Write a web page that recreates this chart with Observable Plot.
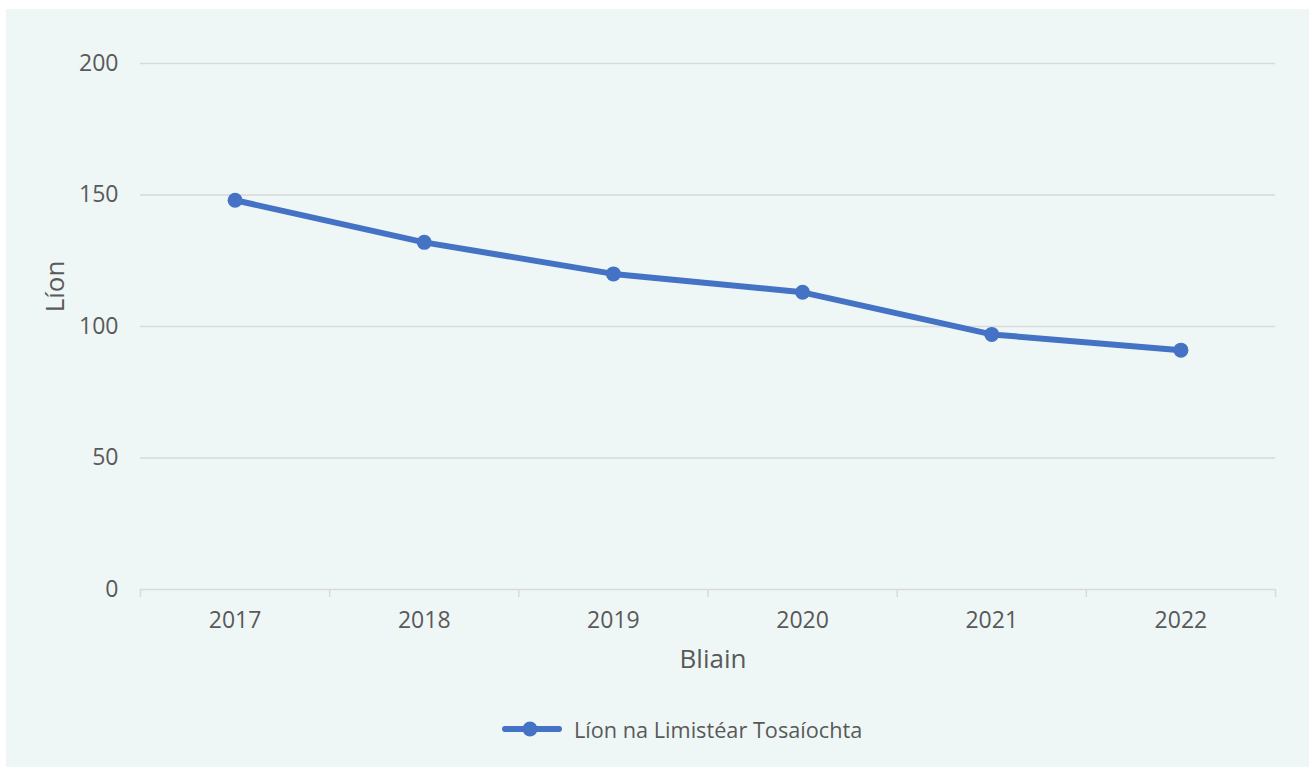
<!DOCTYPE html>
<html><head><meta charset="utf-8">
<script src="https://cdn.jsdelivr.net/npm/d3@7"></script>
<script src="https://cdn.jsdelivr.net/npm/@observablehq/plot@0.6"></script>
<style>
body{margin:0;background:#fff;font-family:"Open Sans",sans-serif;}
#panel{position:absolute;left:6px;top:9px;width:1303px;height:758px;background:#eff7f6;}
#chart{position:absolute;left:0;top:0;}
#legend{position:absolute;top:705px;left:496px;display:flex;align-items:center;color:#595959;font-size:21.7px;height:30px;white-space:nowrap;}
#legend svg{margin-right:12px;}
</style></head><body>
<div id="panel"><div id="chart"></div><div id="legend"></div></div>
<script>
const years = [2017, 2018, 2019, 2020, 2021, 2022];
const counts = [148, 132, 120, 113, 97, 91];
const yTicks = [0, 50, 100, 150, 200];
const seriesName = "Líon na Limistéar Tosaíochta";
const xTitle = "Bliain";
const yTitle = "Líon";
const lineColor = "#4472c4";
const gridColor = "#d9d9d9";
const textColor = "#595959";

const data = years.map((year, i) => ({year, count: counts[i]}));
const bounds = years.map(y => y - 0.5).concat([years[years.length - 1] + 0.5]);

const plot = Plot.plot({
  width: 1303, height: 680,
  marginLeft: 134, marginRight: 34, marginTop: 54, marginBottom: 100,
  style: {background: "transparent", fontFamily: "'Open Sans', sans-serif", fontSize: "23px", color: textColor, overflow: "visible"},
  x: {type: "linear", domain: [bounds[0], bounds[bounds.length - 1]]},
  y: {domain: [yTicks[0], yTicks[yTicks.length - 1]]},
  marks: [
    Plot.ruleY(yTicks, {stroke: gridColor, strokeWidth: 1.5}),
    Plot.axisX(bounds, {tickSize: 8, tickFormat: () => "", stroke: gridColor, strokeWidth: 1.5, label: null}),
    Plot.axisX(years, {tickSize: 0, tickPadding: 22, tickFormat: d => String(d), fill: textColor, label: null}),
    Plot.axisY(yTicks, {tickSize: 0, tickPadding: 22, fill: textColor, label: null}),
    Plot.line(data, {x: "year", y: "count", stroke: lineColor, strokeWidth: 6, strokeLinejoin: "round", strokeLinecap: "round"}),
    Plot.dot(data, {x: "year", y: "count", r: 7.5, fill: lineColor}),
    Plot.text([xTitle], {text: d => d, frameAnchor: "bottom", lineAnchor: "middle", textAnchor: "middle", dx: 5, dy: 70, fontSize: 26, fill: textColor}),
    Plot.text([yTitle], {text: d => d, frameAnchor: "left", lineAnchor: "middle", textAnchor: "middle", dx: -85, dy: -40, rotate: -90, fontSize: 26, fill: textColor})
  ]
});
document.getElementById("chart").appendChild(plot);

const legend = document.getElementById("legend");
legend.innerHTML = `<svg width="60" height="20"><line x1="3" y1="10" x2="57" y2="10" stroke="${lineColor}" stroke-width="6" stroke-linecap="round"/><circle cx="28" cy="10" r="7.5" fill="${lineColor}"/></svg><span>${seriesName}</span>`;
</script>
</body></html>
